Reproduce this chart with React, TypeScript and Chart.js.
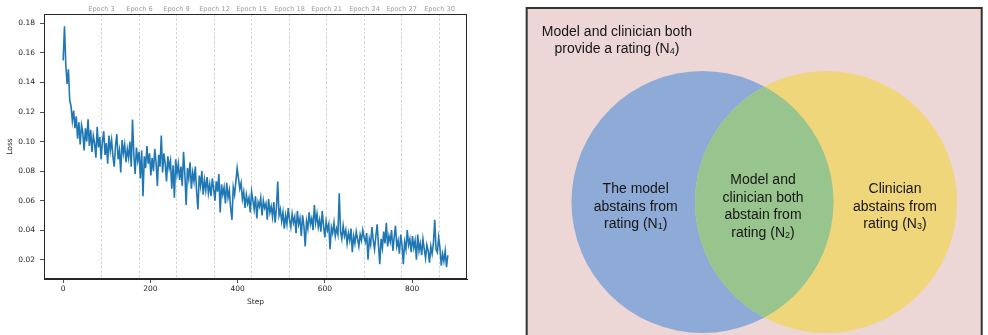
import React, { useEffect, useRef } from "react";
import { Chart, registerables } from "chart.js";

Chart.register(...registerables);

// ---------------- Loss curve data ----------------
const STEP_INTERVAL = 3;
const LOSS: number[] = [
  0.155, 0.178, 0.152, 0.139, 0.149, 0.128, 0.124, 0.114, 0.121, 0.109,
  0.117, 0.102, 0.113, 0.098, 0.111, 0.106, 0.094, 0.109, 0.100, 0.115,
  0.097, 0.108, 0.093, 0.104, 0.099, 0.089, 0.110, 0.096, 0.103, 0.088,
  0.100, 0.107, 0.091, 0.099, 0.085, 0.104, 0.094, 0.101, 0.090, 0.083,
  0.097, 0.105, 0.088, 0.094, 0.079, 0.101, 0.092, 0.098, 0.086, 0.095,
  0.089, 0.100, 0.083, 0.115, 0.091, 0.078, 0.096, 0.087, 0.093, 0.075,
  0.094, 0.063, 0.090, 0.082, 0.097, 0.085, 0.092, 0.077, 0.089, 0.080,
  0.095, 0.086, 0.070, 0.091, 0.083, 0.104, 0.079, 0.092, 0.085, 0.073,
  0.090, 0.082, 0.087, 0.068, 0.084, 0.062, 0.088, 0.078, 0.085, 0.074,
  0.083, 0.070, 0.093, 0.078, 0.057, 0.082, 0.075, 0.086, 0.068, 0.079,
  0.073, 0.083, 0.066, 0.054, 0.077, 0.070, 0.080, 0.064, 0.074, 0.067,
  0.076, 0.065, 0.071, 0.063, 0.075, 0.068, 0.060, 0.073, 0.066, 0.078,
  0.052, 0.071, 0.064, 0.069, 0.058, 0.072, 0.062, 0.067, 0.055, 0.047,
  0.069, 0.064, 0.073, 0.082, 0.075, 0.068, 0.072, 0.061, 0.066, 0.055,
  0.064, 0.058, 0.062, 0.052, 0.066, 0.060, 0.054, 0.063, 0.048, 0.059,
  0.056, 0.062, 0.050, 0.060, 0.055, 0.058, 0.047, 0.061, 0.052, 0.056,
  0.049, 0.059, 0.045, 0.055, 0.073, 0.050, 0.054, 0.046, 0.052, 0.041,
  0.050, 0.044, 0.055, 0.047, 0.042, 0.051, 0.045, 0.049, 0.038, 0.053,
  0.044, 0.048, 0.036, 0.050, 0.043, 0.029, 0.046, 0.041, 0.052, 0.044,
  0.048, 0.040, 0.057, 0.045, 0.051, 0.042, 0.047, 0.039, 0.053, 0.043,
  0.035, 0.046, 0.040, 0.044, 0.027, 0.042, 0.038, 0.045, 0.036, 0.041,
  0.037, 0.065, 0.039, 0.034, 0.043, 0.036, 0.040, 0.031, 0.038, 0.033,
  0.041, 0.025, 0.036, 0.031, 0.039, 0.034, 0.029, 0.037, 0.033, 0.040,
  0.035, 0.032, 0.038, 0.020, 0.034, 0.030, 0.042, 0.033, 0.027, 0.036,
  0.044, 0.030, 0.017, 0.034, 0.028, 0.039, 0.031, 0.045, 0.029, 0.036,
  0.032, 0.040, 0.026, 0.035, 0.043, 0.029, 0.033, 0.024, 0.037, 0.030,
  0.017, 0.032, 0.027, 0.040, 0.030, 0.034, 0.025, 0.036, 0.028, 0.033,
  0.020, 0.037, 0.026, 0.031, 0.023, 0.034, 0.027, 0.021, 0.030, 0.026,
  0.018, 0.029, 0.024, 0.031, 0.047, 0.027, 0.025, 0.035, 0.028, 0.016,
  0.024, 0.019, 0.026, 0.015, 0.023,
];
const EPOCH_NUMBERS = [3, 6, 9, 12, 15, 18, 21, 24, 27, 30];
const EPOCH_STEPS = [86, 173, 259, 345, 431, 517, 603, 689, 775, 861];
const X_TICKS = [0, 200, 400, 600, 800];
const Y_TICKS = [0.02, 0.04, 0.06, 0.08, 0.1, 0.12, 0.14, 0.16, 0.18];

// ---------------- Venn diagram data ----------------
const CIRCLE_NAMES = ["Model abstains", "Clinician abstains"];
const CIRCLE_X = [0, 0.943];
const CIRCLE_Y = [0, 0];
const CIRCLE_R = [1, 1];
const CIRCLE_COLORS = ["#8eaad6", "#f0d67b"];
const OVERLAP_COLOR = "#98c48d";
const UNIVERSE_BOX = [-1.342, 2.131, -1.3, 1.481]; // xmin, xmax, ymin, ymax
const UNIVERSE_COLOR = "#ecd6d6";
const REGION_LABELS: string[][] = [
  ["Model and clinician both", "provide a rating (N₄)"],
  ["The model", "abstains from", "rating (N₁)"],
  ["Model and", "clinician both", "abstain from", "rating (N₂)"],
  ["Clinician", "abstains from", "rating (N₃)"],
];
const REGION_LABEL_X = [-0.653, -0.51, 0.462, 1.469];
const REGION_LABEL_Y = [1.24, -0.028, -0.027, -0.028];

const SUBS: Record<string, string> = { "₀": "0", "₁": "1", "₂": "2", "₃": "3", "₄": "4", "₅": "5" };

function drawRichLine(ctx: CanvasRenderingContext2D, text: string, cx: number, cy: number, size: number) {
  const family = "'Liberation Sans', Arial, sans-serif";
  const big = `${size}px ${family}`;
  const small = `${Math.round(size * 0.66)}px ${family}`;
  const runs: { t: string; sub: boolean }[] = [];
  for (const ch of text) {
    const sub = ch in SUBS;
    const t = sub ? SUBS[ch] : ch;
    const last = runs[runs.length - 1];
    if (last && last.sub === sub) last.t += t;
    else runs.push({ t, sub });
  }
  let total = 0;
  const widths = runs.map((r) => {
    ctx.font = r.sub ? small : big;
    const w = ctx.measureText(r.t).width;
    total += w;
    return w;
  });
  let x = cx - total / 2;
  ctx.textAlign = "left";
  ctx.textBaseline = "alphabetic";
  const baseline = cy + size * 0.36;
  runs.forEach((r, i) => {
    ctx.font = r.sub ? small : big;
    ctx.fillText(r.t, x, baseline + (r.sub ? 1 : 0));
    x += widths[i];
  });
}

const TICK_FONT = { family: "'DejaVu Sans', sans-serif", size: 7.5 };
const AX_COLOR = "#262626";

function LossChart() {
  const ref = useRef<HTMLCanvasElement | null>(null);
  useEffect(() => {
    if (!ref.current) return;
    const framePlugin = {
      id: "frame",
      afterDraw(chart: any) {
        const { ctx, chartArea: a } = chart;
        ctx.save();
        ctx.strokeStyle = AX_COLOR;
        ctx.lineWidth = 1;
        ctx.strokeRect(Math.round(a.left) + 0.5, Math.round(a.top) + 0.5, Math.round(a.right - a.left) - 1, Math.round(a.bottom - a.top) - 1);
        ctx.restore();
      },
    };
    const epochPlugin = {
      id: "epochs",
      beforeDatasetsDraw(chart: any) {
        const { ctx, chartArea: a } = chart;
        const xs = chart.scales.x;
        ctx.save();
        EPOCH_STEPS.forEach((s, i) => {
          const px = Math.round(xs.getPixelForValue(s)) + 0.5;
          ctx.strokeStyle = "#d3d3d3";
          ctx.lineWidth = 1;
          ctx.setLineDash([2.5, 2]);
          ctx.beginPath();
          ctx.moveTo(px, a.top);
          ctx.lineTo(px, a.bottom);
          ctx.stroke();
          ctx.setLineDash([]);
          ctx.fillStyle = "#9a9a9a";
          ctx.font = "6.6px 'DejaVu Sans', sans-serif";
          ctx.textAlign = "center";
          ctx.textBaseline = "middle";
          ctx.fillText(`Epoch ${EPOCH_NUMBERS[i]}`, px, a.top - 5);
        });
        ctx.restore();
      },
    };
    const chart = new Chart(ref.current, {
      type: "line",
      data: {
        datasets: [
          {
            data: LOSS.map((v, i) => ({ x: i * STEP_INTERVAL, y: v })),
            borderColor: "#1f77b4",
            borderWidth: 1.6,
            pointRadius: 0,
            tension: 0,
            fill: false,
          },
        ],
      },
      options: {
        animation: false,
        responsive: false,
        events: [],
        plugins: { legend: { display: false }, tooltip: { enabled: false } },
        layout: { padding: { left: 0, right: 13, top: 14, bottom: 0 } },
        scales: {
          x: {
            type: "linear",
            min: -44,
            max: 926,
            afterBuildTicks: (s: any) => {
              s.ticks = X_TICKS.map((v) => ({ value: v }));
            },
            afterFit: (s: any) => {
              s.height = 56;
            },
            grid: { display: true, drawOnChartArea: false, drawTicks: true, tickLength: 4, tickColor: AX_COLOR, tickWidth: 0.8 },
            border: { display: true, color: AX_COLOR, width: 1 },
            ticks: { font: TICK_FONT, color: AX_COLOR, padding: 2, maxRotation: 0, autoSkip: false },
            title: { display: true, text: "Step", font: TICK_FONT, color: AX_COLOR, padding: { top: 0, bottom: 28 } },
          },
          y: {
            type: "linear",
            min: 0.0069,
            max: 0.1864,
            afterBuildTicks: (s: any) => {
              s.ticks = Y_TICKS.map((v) => ({ value: v }));
            },
            afterFit: (s: any) => {
              s.width = 44;
            },
            grid: { display: true, drawOnChartArea: false, drawTicks: true, tickLength: 4, tickColor: AX_COLOR, tickWidth: 0.8 },
            border: { display: true, color: AX_COLOR, width: 1 },
            ticks: {
              font: TICK_FONT,
              color: AX_COLOR,
              padding: 5,
              autoSkip: false,
              callback: (v: any) => Number(v).toFixed(2),
            },
            title: { display: true, text: "Loss", font: TICK_FONT, color: AX_COLOR, padding: { top: 5.5, bottom: 0 } },
          },
        },
      },
      plugins: [epochPlugin, framePlugin],
    } as any);
    return () => chart.destroy();
  }, []);
  return <canvas ref={ref} width={480} height={335} style={{ position: "absolute", left: 0, top: 0, width: 480, height: 335 }} />;
}

function VennChart() {
  const ref = useRef<HTMLCanvasElement | null>(null);
  useEffect(() => {
    if (!ref.current) return;
    const vennPlugin = {
      id: "venn",
      beforeDatasetsDraw(chart: any) {
        const { ctx } = chart;
        const xs = chart.scales.x;
        const ys = chart.scales.y;
        const unit = xs.getPixelForValue(1) - xs.getPixelForValue(0);
        ctx.save();
        const bx0 = xs.getPixelForValue(UNIVERSE_BOX[0]);
        const bx1 = xs.getPixelForValue(UNIVERSE_BOX[1]);
        const by0 = ys.getPixelForValue(UNIVERSE_BOX[3]);
        const by1 = ys.getPixelForValue(UNIVERSE_BOX[2]);
        ctx.fillStyle = UNIVERSE_COLOR;
        ctx.fillRect(bx0, by0, bx1 - bx0, by1 - by0);
        ctx.strokeStyle = "#333333";
        ctx.lineWidth = 2;
        ctx.strokeRect(bx0, by0, bx1 - bx0, by1 - by0);
        const circlePath = (i: number) => {
          ctx.beginPath();
          ctx.arc(xs.getPixelForValue(CIRCLE_X[i]), ys.getPixelForValue(CIRCLE_Y[i]), CIRCLE_R[i] * unit, 0, Math.PI * 2);
        };
        CIRCLE_NAMES.forEach((_, i) => {
          circlePath(i);
          ctx.fillStyle = CIRCLE_COLORS[i];
          ctx.fill();
        });
        ctx.save();
        circlePath(0);
        ctx.clip();
        circlePath(1);
        ctx.fillStyle = OVERLAP_COLOR;
        ctx.fill();
        ctx.restore();
        ctx.fillStyle = "#161616";
        const lh = 17.4;
        REGION_LABELS.forEach((lines, i) => {
          const cx = xs.getPixelForValue(REGION_LABEL_X[i]);
          const cy = ys.getPixelForValue(REGION_LABEL_Y[i]);
          lines.forEach((line, j) => {
            const y = cy + (j - (lines.length - 1) / 2) * lh;
            drawRichLine(ctx, line, cx, y, 14);
          });
        });
        ctx.restore();
      },
    };
    const chart = new Chart(ref.current, {
      type: "scatter",
      data: {
        datasets: [
          {
            data: CIRCLE_X.map((x, i) => ({ x, y: CIRCLE_Y[i] })),
            pointRadius: 0,
          },
        ],
      },
      options: {
        animation: false,
        responsive: false,
        events: [],
        plugins: { legend: { display: false }, tooltip: { enabled: false } },
        layout: { padding: 0 },
        scales: {
          x: { type: "linear", min: -1.393, max: 2.179, display: false },
          y: { type: "linear", min: -1.015, max: 1.542, display: false },
        },
      },
      plugins: [vennPlugin],
    } as any);
    return () => chart.destroy();
  }, []);
  return <canvas ref={ref} width={468} height={335} style={{ position: "absolute", left: 520, top: 0, width: 468, height: 335 }} />;
}

export default function App() {
  return (
    <div style={{ position: "fixed", left: 0, top: 0, width: 988, height: 335, background: "#fff", overflow: "hidden" }}>
      <LossChart />
      <VennChart />
    </div>
  );
}
